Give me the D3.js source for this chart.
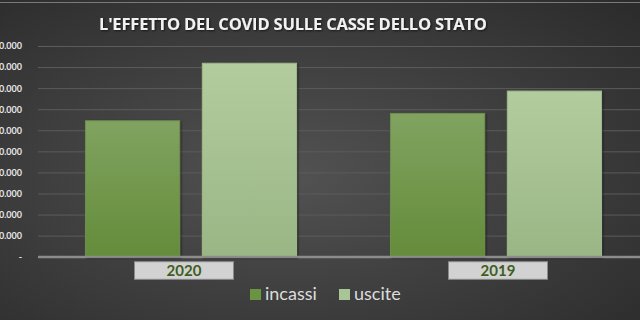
<!DOCTYPE html>
<html><head><meta charset="utf-8">
<script src="https://cdn.jsdelivr.net/npm/d3@7"></script>
<style>html,body{margin:0;padding:0;background:#3c3c3c;overflow:hidden}</style>
</head><body>
<svg id="c" width="640" height="320"></svg>
<script>
const title = "L'EFFETTO DEL COVID SULLE CASSE DELLO STATO";
const categories = ["2020", "2019"];
const seriesNames = ["incassi", "uscite"];
const incassi = [645000, 680000];
const uscite = [918000, 786000];
const tickValues = [0, 100000, 200000, 300000, 400000, 500000, 600000, 700000, 800000, 900000, 1000000];
const tickLabels = ["-", "100.000", "200.000", "300.000", "400.000", "500.000", "600.000", "700.000", "800.000", "900.000", "1.000.000"];

const svg = d3.select("#c");
const W = 640, H = 320;
const defs = svg.append("defs");

const bg = defs.append("radialGradient").attr("id","bg").attr("cx","45%").attr("cy","55%").attr("r","75%");
bg.append("stop").attr("offset","0%").attr("stop-color","#525252");
bg.append("stop").attr("offset","100%").attr("stop-color","#2c2c2c");
svg.append("rect").attr("width",W).attr("height",H).attr("fill","url(#bg)");
svg.append("line").attr("x1",0).attr("x2",W).attr("y1",2.5).attr("y2",2.5).attr("stroke","#7a7a7a").attr("stroke-width",1);

const g1 = defs.append("linearGradient").attr("id","g1").attr("x1",0).attr("y1",0).attr("x2",0).attr("y2",1);
g1.append("stop").attr("offset","0%").attr("stop-color","#80a360");
g1.append("stop").attr("offset","100%").attr("stop-color","#648c3a");
const g2 = defs.append("linearGradient").attr("id","g2").attr("x1",0).attr("y1",0).attr("x2",0).attr("y2",1);
g2.append("stop").attr("offset","0%").attr("stop-color","#b2cc9e");
g2.append("stop").attr("offset","100%").attr("stop-color","#9bb685");
const fills = ["url(#g1)","url(#g2)"];
const strokes = ["#6f8f52","#9fb88c"];
const legendFills = ["#6a9441","#a9c595"];

const sh = defs.append("filter").attr("id","sh").attr("x","-20%").attr("y","-20%").attr("width","140%").attr("height","140%");
sh.append("feDropShadow").attr("dx",1).attr("dy",1).attr("stdDeviation",1.2).attr("flood-color","#000").attr("flood-opacity",0.6);

const y = d3.scaleLinear().domain([0, 1000000]).range([256.7, 46]);
const x0 = d3.scaleBand().domain(categories).range([38.5, 648.5]).paddingInner(0.308).paddingOuter(0.154);
const x1 = d3.scaleBand().domain(seriesNames).range([0, x0.bandwidth()]).paddingInner(0.194);

// gridlines
const yAxis = d3.axisLeft(y).tickValues(tickValues).tickSize(-(W - 38)).tickFormat((d,i)=>tickLabels[i]);
const ga = svg.append("g").attr("transform","translate(38,0)").call(yAxis);
ga.select(".domain").remove();
ga.selectAll(".tick line").attr("stroke", d => d===0 ? "#8c8c8c" : "#5c5c5c").attr("stroke-width", d => d===0 ? 2 : 1);
ga.selectAll(".tick text").attr("x",-16).attr("fill","#e6e6e6").attr("font-family","Lato, 'Open Sans', sans-serif").attr("font-weight","bold").attr("font-size",9);

// bars
const data = categories.map((c,i)=>({cat:c, vals:[incassi[i], uscite[i]]}));
const groups = svg.append("g").selectAll("g").data(data).join("g").attr("transform", d=>`translate(${x0(d.cat)},0)`);
groups.selectAll("rect").data(d=>d.vals.map((v,j)=>({s:seriesNames[j], v, j}))).join("rect")
  .attr("x", d=>x1(d.s)).attr("width", x1.bandwidth())
  .attr("y", d=>y(d.v)).attr("height", d=>y(0)-y(d.v))
  .attr("fill", d=>fills[d.j]).attr("stroke", d=>strokes[d.j]).attr("stroke-width",1)
  .attr("filter","url(#sh)");

// baseline redraw on top
svg.append("line").attr("x1",38).attr("x2",W).attr("y1",y(0)).attr("y2",y(0)).attr("stroke","#8c8c8c").attr("stroke-width",2);

// category label boxes
const offs = [-7, 2];
const cl = svg.append("g").selectAll("g").data(categories).join("g")
  .attr("transform",(d,i)=>`translate(${x0(d)+x0.bandwidth()/2+offs[i]},270.5)`);
cl.append("rect").attr("x",-49.5).attr("y",-8.8).attr("width",99).attr("height",17.6).attr("fill","#d2d2d2").attr("stroke","#8a8a8a").attr("stroke-width",1);
cl.append("text").attr("text-anchor","middle").attr("dy","0.36em").attr("fill","#3e5e22").attr("font-family","Lato, 'Open Sans', sans-serif").attr("font-weight","bold").attr("font-size",15).text(d=>d);

// legend
const legX = [250, 339];
const lg = svg.append("g").selectAll("g").data(seriesNames).join("g").attr("transform",(d,i)=>`translate(${legX[i]},289)`);
lg.append("rect").attr("width",11).attr("height",11).attr("fill",(d,i)=>legendFills[i]);
lg.append("text").attr("x",15).attr("y",11).attr("fill","#dcdcdc").attr("font-family","Lato, 'Open Sans', sans-serif").attr("font-size",18).text(d=>d);

// title
svg.append("text").attr("x",99).attr("y",30).attr("fill","#f2f2f2").attr("font-family","'Open Sans', Lato, sans-serif").attr("font-weight","bold").attr("font-size",16.5).attr("textLength",388).attr("lengthAdjust","spacing").attr("filter","url(#sh)").text(title);
</script>
</body></html>
